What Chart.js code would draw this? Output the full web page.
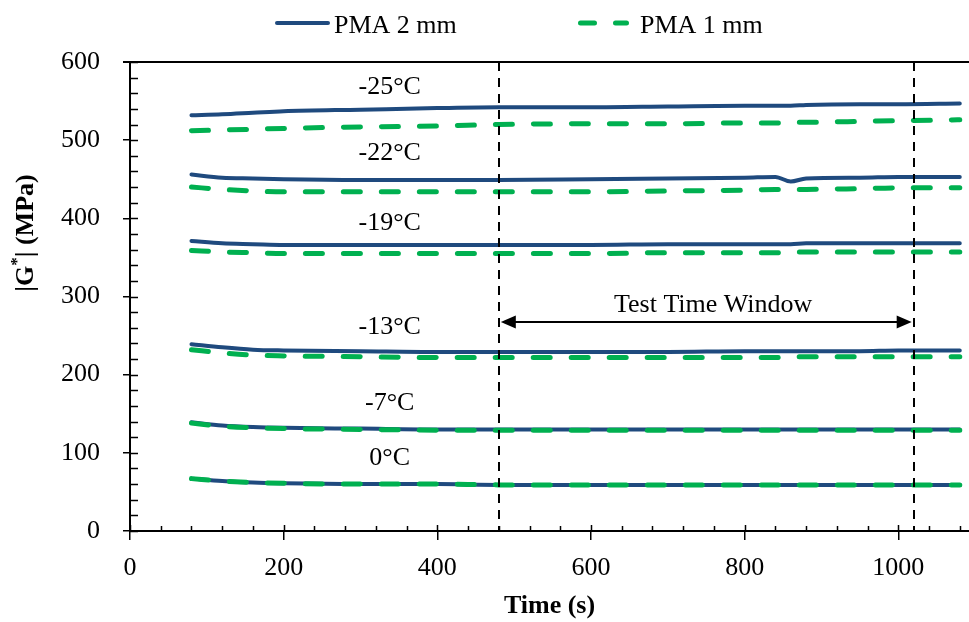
<!DOCTYPE html>
<html>
<head>
<meta charset="utf-8">
<script src="https://cdn.jsdelivr.net/npm/chart.js@4.4.1/dist/chart.umd.min.js"></script>
<style>
  html, body { margin: 0; padding: 0; background: #fff; }
  #wrap { width: 969px; height: 622px; }
</style>
</head>
<body>
<div id="wrap"><canvas id="myChart"></canvas></div>
<script>
// time (s) shared by all curves
const timeS = [80, 120, 160, 200, 300, 400, 480, 600, 700, 800, 840, 860, 880, 950, 1000, 1080];

// |G*| (MPa), PMA 2 mm
const pma2_m25 = [532, 533, 535, 537, 539, 541, 542, 542, 543, 544, 544, 544, 545, 546, 546, 547];
const pma2_m22 = [456, 452, 451, 450, 449, 449, 449, 450, 451, 452, 453, 447, 451, 452, 453, 453];
const pma2_m19 = [371, 368, 367, 366, 366, 366, 366, 366, 367, 367, 367, 367, 368, 368, 368, 368];
const pma2_m13 = [239, 235, 232, 231, 230, 229, 229, 229, 229, 230, 230, 230, 230, 230, 231, 231];
const pma2_m7 = [139, 135, 133, 132, 131, 130, 130, 130, 130, 130, 130, 130, 130, 130, 130, 130];
const pma2_0 = [67, 64, 62, 61, 60, 60, 59, 59, 59, 59, 59, 59, 59, 59, 59, 59];

// |G*| (MPa), PMA 1 mm
const pma1_m25 = [512, 513, 514, 515, 517, 518, 520, 521, 521, 522, 522, 523, 523, 524, 525, 526];
const pma1_m22 = [440, 437, 435, 434, 434, 434, 434, 434, 435, 436, 437, 437, 437, 438, 439, 439];
const pma1_m19 = [359, 357, 356, 355, 355, 355, 355, 355, 356, 356, 356, 357, 357, 357, 357, 357];
const pma1_m13 = [232, 228, 225, 224, 223, 222, 222, 222, 222, 222, 222, 223, 223, 223, 223, 223];
const pma1_m7 = [138, 134, 132, 131, 130, 129, 129, 129, 129, 129, 129, 129, 129, 129, 129, 129];
const pma1_0 = [67, 64, 62, 61, 60, 60, 59, 59, 59, 59, 59, 59, 59, 59, 59, 59];

const temps = ["-25°C", "-22°C", "-19°C", "-13°C", "-7°C", "0°C"];
const seriesNames = ["PMA 2 mm", "PMA 1 mm"];
const windowStart = 480;
const windowEnd = 1020;

const pma2All = [pma2_m25, pma2_m22, pma2_m19, pma2_m13, pma2_m7, pma2_0];
const pma1All = [pma1_m25, pma1_m22, pma1_m19, pma1_m13, pma1_m7, pma1_0];

// where the temperature labels sit (data units)
const labelTime = 338;
const labelVal = [568, 483, 394, 261, 164, 93];

const BLUE = "#1f4a7e";
const GREEN = "#00b050";
const FONT = "'Liberation Serif', 'Times New Roman', serif";

const toPoints = (vals) => vals.map((v, i) => ({ x: timeS[i], y: v }));

const datasets = [];
pma2All.forEach((vals, i) => {
  datasets.push({
    label: seriesNames[0] + " " + temps[i],
    data: toPoints(vals),
    borderColor: BLUE,
    borderWidth: 4,
    borderCapStyle: "round",
    pointRadius: 0,
    cubicInterpolationMode: "monotone",
    order: 2,
  });
});
pma1All.forEach((vals, i) => {
  datasets.push({
    label: seriesNames[1] + " " + temps[i],
    data: toPoints(vals),
    borderColor: GREEN,
    borderWidth: 5,
    borderDash: [17, 21],
    borderCapStyle: "round",
    pointRadius: 0,
    cubicInterpolationMode: "monotone",
    order: 1,
  });
});

const extras = {
  id: "extras",
  afterDatasetsDraw(chart) {
    const ctx = chart.ctx;
    const xs = chart.scales.x;
    const ys = chart.scales.y;
    const area = chart.chartArea;
    ctx.save();

    // test window boundaries
    ctx.strokeStyle = "#000";
    ctx.lineWidth = 2;
    ctx.setLineDash([9, 7]);
    [windowStart, windowEnd].forEach((t) => {
      const px = Math.round(xs.getPixelForValue(t));
      ctx.beginPath();
      ctx.moveTo(px, area.top);
      ctx.lineTo(px, area.bottom);
      ctx.stroke();
    });
    ctx.setLineDash([]);

    // double arrow
    const ay = ys.getPixelForValue(267.5);
    const ax1 = xs.getPixelForValue(windowStart) + 2;
    const ax2 = xs.getPixelForValue(windowEnd) - 2;
    ctx.lineWidth = 2;
    ctx.beginPath();
    ctx.moveTo(ax1 + 10, ay);
    ctx.lineTo(ax2 - 10, ay);
    ctx.stroke();
    ctx.fillStyle = "#000";
    ctx.beginPath();
    ctx.moveTo(ax1, ay);
    ctx.lineTo(ax1 + 15, ay - 6.5);
    ctx.lineTo(ax1 + 15, ay + 6.5);
    ctx.closePath();
    ctx.fill();
    ctx.beginPath();
    ctx.moveTo(ax2, ay);
    ctx.lineTo(ax2 - 15, ay - 6.5);
    ctx.lineTo(ax2 - 15, ay + 6.5);
    ctx.closePath();
    ctx.fill();

    // texts
    ctx.font = "26px " + FONT;
    ctx.textAlign = "center";
    ctx.textBaseline = "middle";
    ctx.fillText("Test Time Window", xs.getPixelForValue(759), ys.getPixelForValue(289));
    temps.forEach((t, i) => {
      ctx.fillText(t, xs.getPixelForValue(labelTime), ys.getPixelForValue(labelVal[i]));
    });
    ctx.restore();
  },
  afterDraw(chart) {
    const ctx = chart.ctx;
    const xs = chart.scales.x;
    const ys = chart.scales.y;
    const area = chart.chartArea;
    ctx.save();
    ctx.strokeStyle = "#000";
    ctx.lineWidth = 1.5;

    // inner part of major ticks + minor ticks
    ctx.beginPath();
    for (let v = 0; v <= 600; v += 20) {
      const py = Math.round(ys.getPixelForValue(v)) + 0.5;
      ctx.moveTo(area.left, py);
      ctx.lineTo(area.left + 8, py);
    }
    for (let t = 0; t <= 1080; t += 40) {
      const px = Math.round(xs.getPixelForValue(t)) + 0.5;
      ctx.moveTo(px, area.bottom);
      ctx.lineTo(px, area.bottom - (t % 200 === 0 ? 6 : 5));
    }
    ctx.stroke();

    // top border
    ctx.lineWidth = 2;
    ctx.beginPath();
    ctx.moveTo(area.left - 7, area.top);
    ctx.lineTo(chart.width, area.top);
    ctx.stroke();

    // legend
    ctx.lineCap = "round";
    ctx.strokeStyle = BLUE;
    ctx.lineWidth = 4;
    ctx.beginPath();
    ctx.moveTo(277, 23);
    ctx.lineTo(328, 23);
    ctx.stroke();
    ctx.strokeStyle = GREEN;
    ctx.lineWidth = 5;
    ctx.setLineDash([14, 21]);
    ctx.beginPath();
    ctx.moveTo(580.5, 23);
    ctx.lineTo(626.5, 23);
    ctx.stroke();
    ctx.setLineDash([]);
    ctx.fillStyle = "#000";
    ctx.font = "26px " + FONT;
    ctx.textAlign = "left";
    ctx.textBaseline = "alphabetic";
    ctx.fillText(seriesNames[0], 334, 33);
    ctx.fillText(seriesNames[1], 640, 33);

    // y axis title with superscript star
    ctx.translate(26, 233);
    ctx.rotate(-Math.PI / 2);
    const big = "bold 26px " + FONT;
    const small = "bold 17px " + FONT;
    ctx.font = big;
    const w1 = ctx.measureText("|G").width;
    const w3 = ctx.measureText("| (MPa)").width;
    ctx.font = small;
    const w2 = ctx.measureText("*").width;
    let cx = -(w1 + w2 + w3) / 2;
    ctx.textBaseline = "middle";
    ctx.font = big;
    ctx.fillText("|G", cx, 0);
    cx += w1;
    ctx.font = small;
    ctx.fillText("*", cx, -8);
    cx += w2;
    ctx.font = big;
    ctx.fillText("| (MPa)", cx, 0);
    ctx.restore();
  },
};

const ctx = document.getElementById("myChart").getContext("2d");
const myChart = new Chart(ctx, {
  type: "line",
  data: { datasets: datasets },
  plugins: [extras],
  options: {
    responsive: true,
    maintainAspectRatio: false,
    animation: false,
    events: [],
    layout: { padding: { top: 62, right: 0, left: 0, bottom: 0 } },
    plugins: {
      legend: { display: false },
      tooltip: { enabled: false },
    },
    scales: {
      x: {
        type: "linear",
        min: 0,
        max: 1092,
        ticks: {
          stepSize: 200,
          includeBounds: false,
          color: "#000",
          padding: 13,
          font: { family: FONT, size: 26 },
          callback: (value) => String(value),
        },
        grid: { drawOnChartArea: false, tickLength: 9, color: "#000", lineWidth: 1.5 },
        border: { color: "#000", width: 2 },
        title: {
          display: true,
          text: "Time (s)",
          color: "#000",
          padding: { top: 0, bottom: 0 },
          font: { family: FONT, size: 26, weight: "bold" },
        },
        afterFit: (scale) => { scale.height = 91; },
      },
      y: {
        min: 0,
        max: 600,
        ticks: {
          stepSize: 100,
          color: "#000",
          padding: 23,
          font: { family: FONT, size: 26 },
        },
        grid: { drawOnChartArea: false, tickLength: 7, color: "#000", lineWidth: 1.5 },
        border: { color: "#000", width: 2 },
        afterFit: (scale) => { scale.width = 130; },
      },
    },
  },
});
</script>
</body>
</html>
